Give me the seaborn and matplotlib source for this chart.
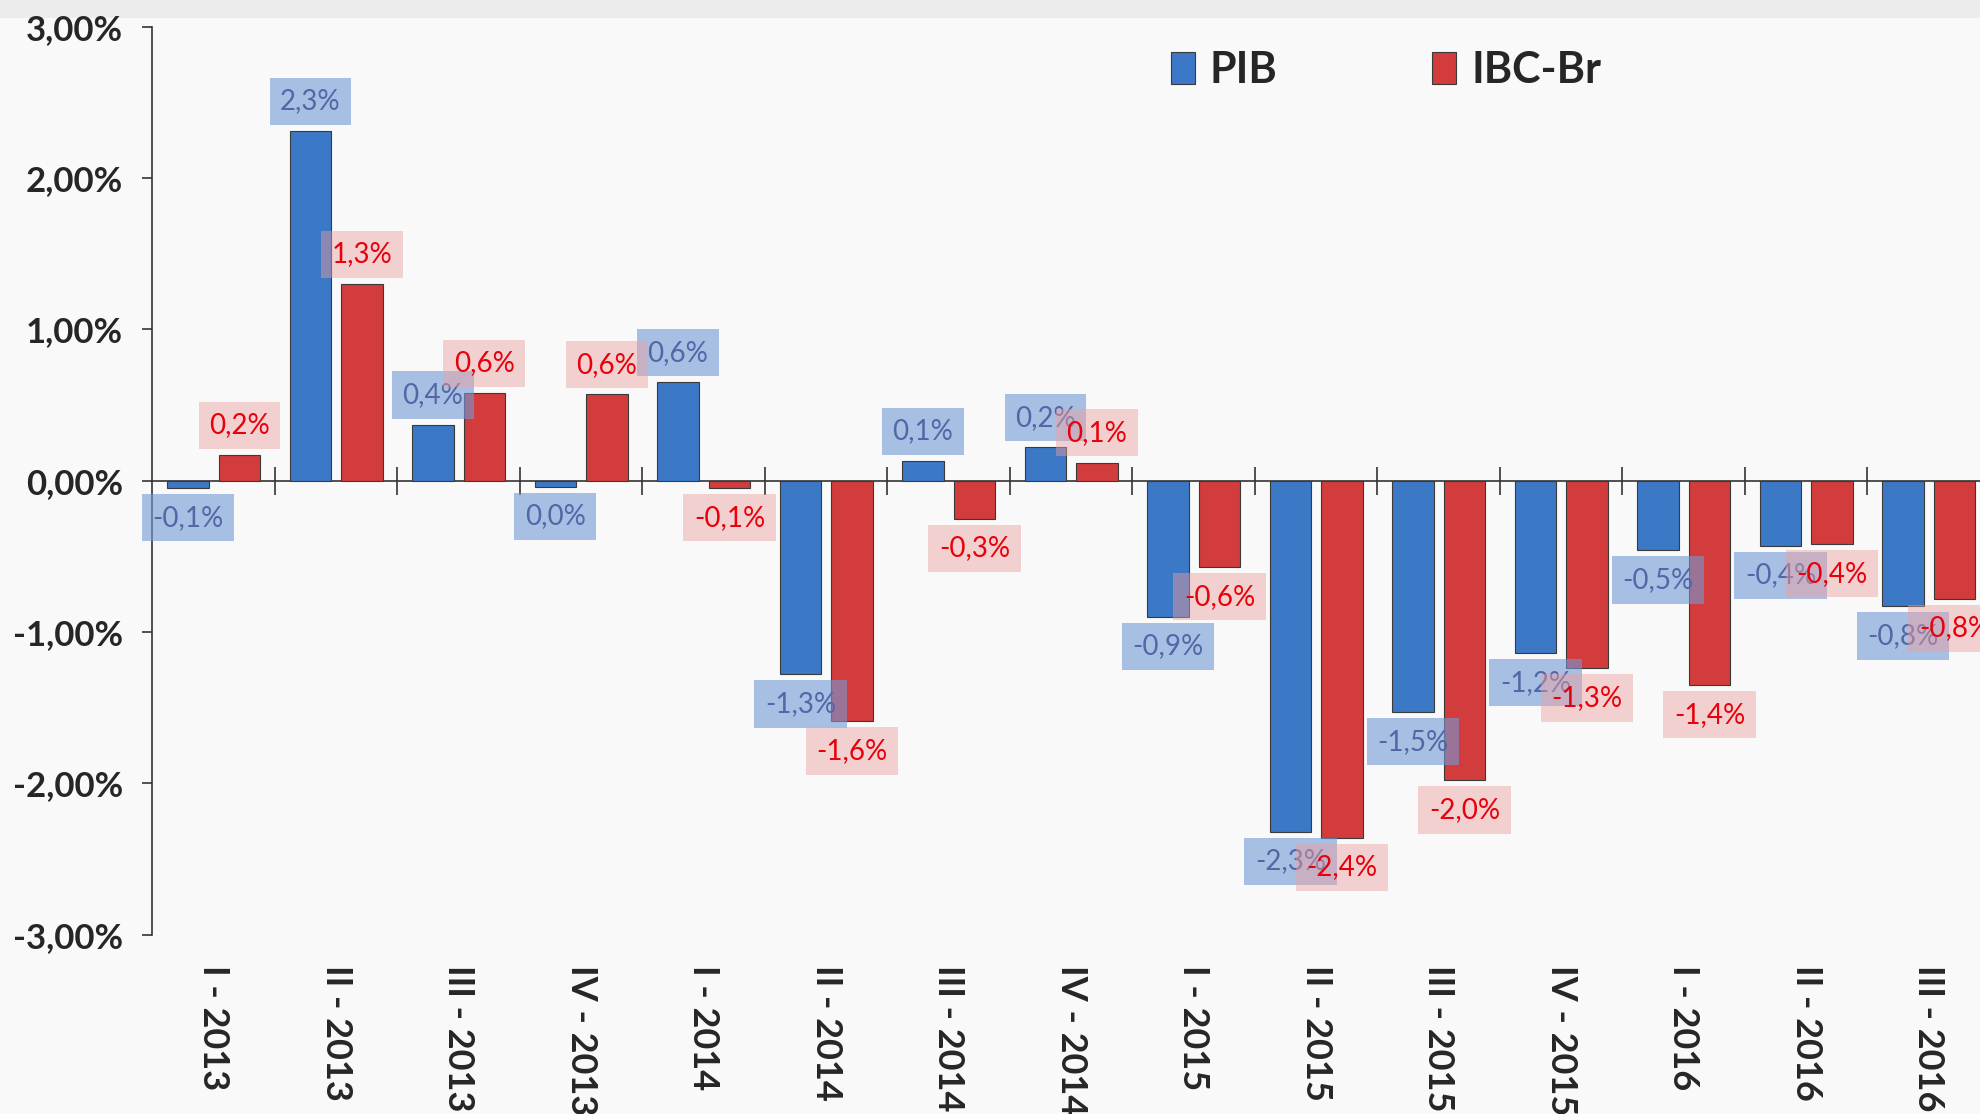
import matplotlib
matplotlib.use("Agg")
import matplotlib.pyplot as plt
import matplotlib.patches as mpatches
from matplotlib.ticker import FuncFormatter
import numpy as np
import pandas as pd
import seaborn as sns

# Dados (variação trimestral, %)
trimestres = ['I - 2013', 'II - 2013', 'III - 2013', 'IV - 2013',
              'I - 2014', 'II - 2014', 'III - 2014', 'IV - 2014',
              'I - 2015', 'II - 2015', 'III - 2015', 'IV - 2015',
              'I - 2016', 'II - 2016', 'III - 2016']
pib = [-0.05, 2.31, 0.37, -0.04, 0.65, -1.28, 0.13, 0.22,
       -0.90, -2.32, -1.53, -1.14, -0.46, -0.43, -0.83]
ibc = [0.17, 1.30, 0.58, 0.57, -0.05, -1.59, -0.25, 0.12,
       -0.57, -2.36, -1.98, -1.24, -1.35, -0.42, -0.78]
rotulos_pib = ['-0,1%', '2,3%', '0,4%', '0,0%', '0,6%', '-1,3%', '0,1%', '0,2%',
               '-0,9%', '-2,3%', '-1,5%', '-1,2%', '-0,5%', '-0,4%', '-0,8%']
rotulos_ibc = ['0,2%', '1,3%', '0,6%', '0,6%', '-0,1%', '-1,6%', '-0,3%', '0,1%',
               '-0,6%', '-2,4%', '-2,0%', '-1,3%', '-1,4%', '-0,4%', '-0,8%']
series = ['PIB', 'IBC-Br']

df = pd.DataFrame({
    'trimestre': trimestres * 2,
    'valor': pib + ibc,
    'serie': ['PIB'] * len(pib) + ['IBC-Br'] * len(ibc),
})

sns.set_style('white')
plt.rcParams['font.family'] = ['Lato', 'DejaVu Sans']

fig = plt.figure(figsize=(19.8, 11.14), dpi=100, facecolor='#F9F9F9')
# faixa cinza no topo
fig.add_artist(mpatches.Rectangle((0, 0.984), 1, 0.016, transform=fig.transFigure,
                                  facecolor='#ECECEC', edgecolor='none', zorder=0))
ax = fig.add_axes([0.077, 0.161, 0.928, 0.815])
ax.set_facecolor('none')

cores = {'PIB': '#3B78C6', 'IBC-Br': '#D23C3C'}
sns.barplot(data=df, x='trimestre', y='valor', hue='serie', hue_order=series,
            palette=cores, saturation=1, width=0.84, gap=0.19,
            edgecolor='#3a3a3a', linewidth=0.8, ax=ax)

# rótulos de dados
estilos = [
    dict(color='#5366A6', bbox=dict(boxstyle='square,pad=0.38', facecolor=(0.45, 0.6, 0.84, 0.6), edgecolor='none')),
    dict(color='#E8000B', bbox=dict(boxstyle='square,pad=0.38', facecolor=(0.93, 0.62, 0.62, 0.45), edgecolor='none')),
]
for cont, rot, est in zip(ax.containers, [rotulos_pib, rotulos_ibc], estilos):
    ax.bar_label(cont, labels=rot, padding=12, fontsize=20, **est)

# eixo y
ax.set_ylim(-3, 3)
ax.set_yticks(np.arange(-3, 4, 1))
ax.yaxis.set_major_formatter(FuncFormatter(lambda v, p: f'{v:.2f}%'.replace('.', ',')))
ax.tick_params(axis='y', direction='out', length=7, width=1.2, color='#333333',
               pad=14, labelsize=25, left=True)
for t in ax.get_yticklabels():
    t.set_fontweight('bold')
ax.spines['left'].set_color('#333333')
ax.spines['left'].set_linewidth(1.2)
for s in ['top', 'right', 'bottom']:
    ax.spines[s].set_visible(False)

# eixo x (rótulos embaixo)
ax.set_xlim(-0.5, len(trimestres) - 0.5)
ax.set_xlabel('')
ax.set_ylabel('')
ax.tick_params(axis='x', length=0, pad=22, labelsize=26)
ax.set_xticks(range(len(trimestres)))
ax.set_xticklabels(trimestres, rotation=-90, fontweight='bold')

# linha do zero com marcas entre categorias
zero = ax.secondary_xaxis(0.5)
zero.set_xticks(np.arange(0.5, len(trimestres), 1))
zero.set_xticklabels([])
zero.tick_params(direction='inout', length=20, width=1.2, color='#333333')
zero.spines['bottom'].set_color('#333333')
zero.spines['bottom'].set_linewidth(1.2)
zero.spines['top'].set_color('#333333')
zero.spines['top'].set_linewidth(1.2)

# legenda
handles = [mpatches.Patch(facecolor=cores[s], edgecolor='#3a3a3a', linewidth=0.8) for s in series]
ax.legend(handles, series, loc='center', bbox_to_anchor=(0.700, 0.937),
          bbox_transform=fig.transFigure, ncol=2, frameon=False,
          prop=dict(family='Lato', weight='bold', size=31),
          handlelength=0.55, handleheight=0.75, handletextpad=0.35, columnspacing=3.6)

fig.savefig('out.png', dpi=100, facecolor=fig.get_facecolor())
